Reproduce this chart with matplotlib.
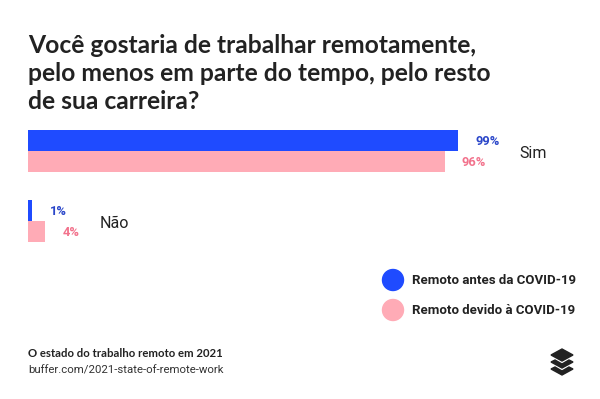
import numpy as np
import matplotlib.pyplot as plt
from matplotlib.patches import Polygon, Circle

# dados
categorias = ['Sim', 'Não']
antes = [99, 1]      # Remoto antes da COVID-19
devido = [96, 4]     # Remoto devido à COVID-19
series = ['Remoto antes da COVID-19', 'Remoto devido à COVID-19']

azul = '#1f4bff'
rosa = '#ffabb6'
azul_txt = '#2a46c9'
rosa_txt = '#f2728c'

W, H = 600, 399
fig = plt.figure(figsize=(6, 3.99), dpi=100)
fig.patch.set_facecolor('white')

def fx(x):
    return x / W

def fy(y):
    return 1 - y / H

# titulo
titulo = ['Você gostaria de trabalhar remotamente,',
          'pelo menos em parte do tempo, pelo resto',
          'de sua carreira?']
for i, linha in enumerate(titulo):
    fig.text(fx(28), fy(53 + i * 28), linha, fontsize=17.7, fontweight='bold',
             family='Lato', color='#222222', va='baseline')

# barras
ax = fig.add_axes([fx(28), fy(250), 1 - fx(28), (250 - 120) / H])
ax.set_xlim(0, 572 / 4.34)
ax.set_ylim(99 / 70, -31 / 70)
ax.axis('off')

y = np.arange(len(categorias))
h = 0.3
ax.barh(y - h / 2, antes, height=h, color=azul)
ax.barh(y + h / 2, devido, height=h, color=rosa)

fig.canvas.draw()
r = fig.canvas.get_renderer()
for i in range(len(categorias)):
    t1 = ax.text(antes[i] + 4, y[i] - h / 2 + 0.02, f'{antes[i]}%', color=azul_txt,
                 fontsize=9.3, fontweight='bold', family='Roboto', va='center', ha='left')
    t2 = ax.text(devido[i] + 4, y[i] + h / 2 + 0.02, f'{devido[i]}%', color=rosa_txt,
                 fontsize=9.3, fontweight='bold', family='Roboto', va='center', ha='left')
    # rotulo da categoria logo depois do maior texto de porcentagem
    fim = max(t1.get_window_extent(r).x1, t2.get_window_extent(r).x1) + 20
    ax.annotate(categorias[i], xy=(0, y[i] + 0.03), xycoords='data',
                xytext=(fim, 0), textcoords=('figure pixels', 'offset points'),
                color='#222222', fontsize=11.5, family='Roboto', va='center', ha='left')

# legenda
for i, (nome, cor) in enumerate(zip(series, [azul, rosa])):
    yy = 280 + i * 30
    fig.patches.append(Circle((393, H - yy), 10.5, color=cor,
                              transform=None, figure=fig))
    fig.text(fx(412), fy(yy), nome, fontsize=9.5, fontweight='bold', family='Roboto',
             color='#222222', va='center', ha='left')

# rodape
fig.text(fx(28), fy(357), 'O estado do trabalho remoto em 2021', fontsize=8.2,
         fontweight='bold', family='Lato', color='#222222', va='baseline')
fig.text(fx(28), fy(373), 'buffer.com/2021-state-of-remote-work', fontsize=8.2,
         family='Roboto', color='#333333', va='baseline')

# logo buffer
cx = 562
topo = [(cx - 11, 355), (cx, 349), (cx + 11, 355), (cx, 361)]
chev1 = [(cx - 11, 362), (cx - 7, 360), (cx, 364), (cx + 7, 360), (cx + 11, 362), (cx, 368)]
chev2 = [(cx - 11, 369), (cx - 7, 367), (cx, 371), (cx + 7, 367), (cx + 11, 369), (cx, 375)]
for pts in [topo, chev1, chev2]:
    pts = [(px, H - py) for px, py in pts]
    fig.patches.append(Polygon(pts, closed=True, color='#222222',
                               transform=None, figure=fig))

fig.savefig('out.png', dpi=100, facecolor='white')
